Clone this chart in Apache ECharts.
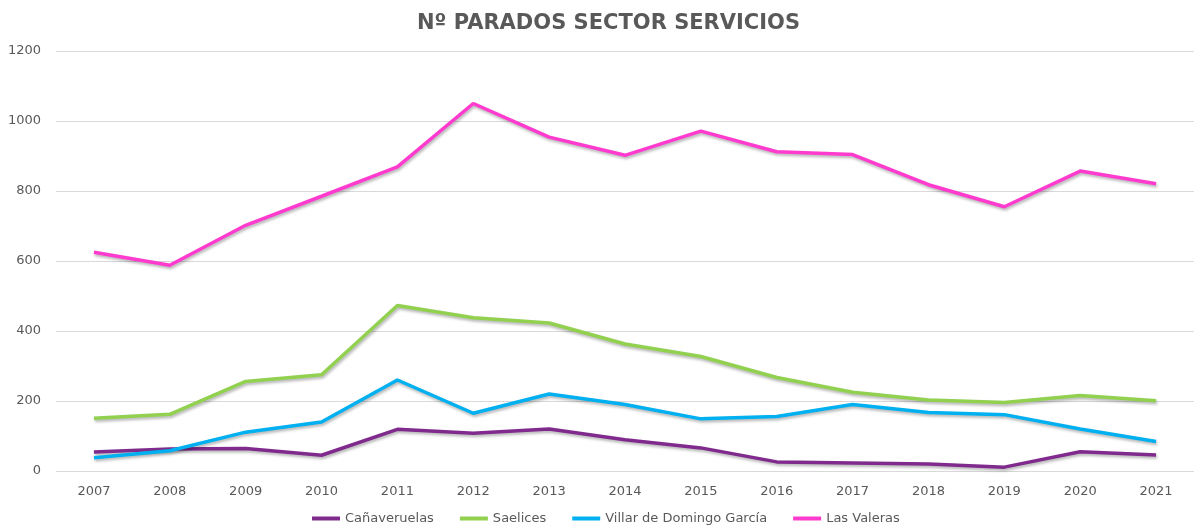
<!DOCTYPE html>
<html><head><meta charset="utf-8">
<script src="https://cdn.jsdelivr.net/npm/echarts@6/dist/echarts.min.js"></script>
<style>html,body{margin:0;padding:0;background:#fff}#c{width:1194px;height:527px}</style>
</head><body><div id="c"></div>
<script>
const years = ['2007','2008','2009','2010','2011','2012','2013','2014','2015','2016','2017','2018','2019','2020','2021'];
const canaveruelas = [54,63,64,45,119,108,120,89,66,26,23,20,11,55,46];
const saelices = [151,162,256,275,473,438,423,363,327,267,225,203,196,216,201];
const villar = [38,58,111,140,260,165,220,190,149,156,190,167,161,120,84];
const lasValeras = [625,588,702,785,869,1050,954,902,971,912,904,818,755,857,821];
const seriesNames = ['Cañaveruelas','Saelices','Villar de Domingo García','Las Valeras'];
const colors = ['#7F2A8C','#92D050','#00B0F0','#FF3ACF'];
const FONT = 'DejaVu Sans';
const chart = echarts.init(document.getElementById('c'));
const mk = (name, data, color) => ({
  name, type:'line', data, symbol:'none', smooth:false,
  lineStyle:{width:3.5,color,shadowColor:'rgba(0,0,0,0.3)',shadowBlur:3,shadowOffsetX:1,shadowOffsetY:2},
  itemStyle:{color}
});
chart.setOption({
  animation:false,
  title:{text:'Nº PARADOS SECTOR SERVICIOS',left:412,top:8,
    textStyle:{fontFamily:FONT,fontSize:21,fontWeight:'bold',color:'#595959'}},
  legend:{bottom:2,left:312,padding:0,itemWidth:28,itemHeight:4,itemGap:26,icon:'rect',
    textStyle:{fontFamily:FONT,fontSize:13,color:'#595959'},data:seriesNames},
  grid:{left:56,right:-5,top:51,bottom:56,containLabel:false},
  xAxis:{type:'category',data:years,boundaryGap:true,
    axisLine:{show:false},axisTick:{show:false},
    axisLabel:{fontFamily:FONT,fontSize:13,color:'#595959',margin:14}},
  yAxis:{type:'value',min:0,max:1200,interval:200,
    axisLine:{show:false},axisTick:{show:false},
    splitLine:{lineStyle:{color:'#D9D9D9',width:1}},
    axisLabel:{fontFamily:FONT,fontSize:13,color:'#595959',margin:15,formatter:v=>String(v)}},
  series:[mk(seriesNames[0],canaveruelas,colors[0]),mk(seriesNames[1],saelices,colors[1]),
    mk(seriesNames[2],villar,colors[2]),mk(seriesNames[3],lasValeras,colors[3])]
});
</script></body></html>
